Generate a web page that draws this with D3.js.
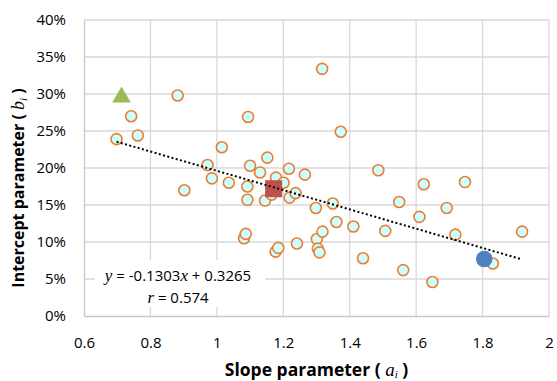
<!DOCTYPE html>
<html>
<head>
<meta charset="utf-8">
<script src="https://cdn.jsdelivr.net/npm/d3@7"></script>
<style>
  body { margin: 0; background: #fff; }
  text { font-family: "Open Sans", "Liberation Sans", sans-serif; fill: #000; }
</style>
</head>
<body>
<svg id="chart" width="557" height="381"></svg>
<script>
// slope (a_i) and intercept (b_i, %) for each individual
const slopeValues = [0.698, 0.742, 0.762, 0.882, 0.902, 0.972, 0.985, 1.015, 1.036, 1.082,
  1.087, 1.092, 1.092, 1.094, 1.100, 1.130, 1.145, 1.152, 1.165, 1.177,
  1.185, 1.178, 1.201, 1.217, 1.219, 1.237, 1.241, 1.265, 1.298, 1.301,
  1.304, 1.309, 1.318, 1.317, 1.349, 1.360, 1.373, 1.411, 1.440, 1.486,
  1.507, 1.549, 1.561, 1.610, 1.623, 1.649, 1.692, 1.718, 1.747, 1.831, 1.919];
const interceptValues = [23.9, 27.0, 24.4, 29.8, 17.0, 20.4, 18.6, 22.8, 18.0, 10.5,
  11.1, 17.5, 15.7, 26.9, 20.3, 19.4, 15.6, 21.4, 16.4, 8.7,
  9.2, 18.7, 18.0, 19.9, 16.0, 16.6, 9.8, 19.1, 14.6, 10.4,
  9.1, 8.6, 11.4, 33.4, 15.2, 12.7, 24.9, 12.1, 7.8, 19.7,
  11.5, 15.4, 6.2, 13.4, 17.8, 4.6, 14.6, 11.0, 18.1, 7.1, 11.4];

// highlighted points
const trianglePoint = [0.713, 29.7];
const squarePoint = [1.171, 17.2];
const bluePoint = [1.805, 7.7];

// linear fit shown on chart
const fitSlope = -0.1303;
const fitIntercept = 0.3265;
const fitLabel = 'r = 0.574';

const xTicks = [0.6, 0.8, 1, 1.2, 1.4, 1.6, 1.8, 2];
const yTicks = [0, 5, 10, 15, 20, 25, 30, 35, 40];

const width = 557, height = 381;
const margin = {top: 20, right: 8, bottom: 65, left: 84};
const innerW = width - margin.left - margin.right;
const innerH = height - margin.top - margin.bottom;

const svg = d3.select('#chart');
const g = svg.append('g').attr('transform', `translate(${margin.left},${margin.top})`);

const x = d3.scaleLinear().domain([0.6, 2]).range([0, innerW]);
const y = d3.scaleLinear().domain([0, 40]).range([innerH, 0]);

// gridlines
g.append('g').selectAll('line').data(xTicks.slice(1)).join('line')
  .attr('x1', d => x(d)).attr('x2', d => x(d))
  .attr('y1', 0).attr('y2', innerH)
  .attr('stroke', '#d9d9d9').attr('stroke-width', 1.3);
g.append('g').selectAll('line').data(yTicks.slice(1)).join('line')
  .attr('x1', 0).attr('x2', innerW)
  .attr('y1', d => y(d)).attr('y2', d => y(d))
  .attr('stroke', '#d9d9d9').attr('stroke-width', 1.3);

// axes
const xAxis = g.append('g').attr('transform', `translate(0,${innerH})`)
  .call(d3.axisBottom(x).tickValues(xTicks).tickSize(0).tickPadding(21).tickFormat(d3.format('')));
const yAxis = g.append('g')
  .call(d3.axisLeft(y).tickValues(yTicks).tickSize(0).tickPadding(18).tickFormat(d => d + '%'));
[xAxis, yAxis].forEach(a => {
  a.select('.domain').attr('stroke', '#c8c8c8').attr('stroke-width', 1.3);
  a.selectAll('text').attr('font-size', 15).attr('font-family', '"Open Sans", sans-serif').attr('fill', '#000');
});

// label box (drawn before points so it only hides gridlines)
const labelX = 178;
g.append('rect')
  .attr('x', 95 - margin.left).attr('y', 260 - margin.top)
  .attr('width', 170).attr('height', 47)
  .attr('fill', '#fff');

// data points
const points = slopeValues.map((a, i) => ({a, b: interceptValues[i]}));
g.append('g').selectAll('circle').data(points).join('circle')
  .attr('cx', d => x(d.a)).attr('cy', d => y(d.b))
  .attr('r', 5.5)
  .attr('fill', '#ccffff')
  .attr('stroke', '#ed7d31').attr('stroke-width', 1.6);

g.append('rect')
  .attr('x', x(squarePoint[0]) - 8.5).attr('y', y(squarePoint[1]) - 8.5)
  .attr('width', 17).attr('height', 17)
  .attr('fill', '#c0504d');

g.append('circle')
  .attr('cx', x(bluePoint[0])).attr('cy', y(bluePoint[1]))
  .attr('r', 8.3).attr('fill', '#4f81bd');

const tri = d3.symbol().type(d3.symbolTriangle).size(150);
g.append('path')
  .attr('d', tri())
  .attr('transform', `translate(${x(trianglePoint[0])},${y(trianglePoint[1]) + 1})`)
  .attr('fill', '#9bbb59');

// trendline
const xMin = d3.min(slopeValues), xMax = d3.max(slopeValues);
g.append('line')
  .attr('x1', x(xMin)).attr('y1', y((fitSlope * xMin + fitIntercept) * 100))
  .attr('x2', x(xMax)).attr('y2', y((fitSlope * xMax + fitIntercept) * 100))
  .attr('stroke', '#000').attr('stroke-width', 2)
  .attr('stroke-dasharray', '2,2.4');

// equation label
const eq = g.append('text')
  .attr('x', labelX - margin.left).attr('y', 281 - margin.top)
  .attr('text-anchor', 'middle')
  .attr('font-family', '"Liberation Sans", Arial, sans-serif')
  .attr('font-size', 15);
eq.append('tspan').attr('font-family', '"Liberation Serif", serif').attr('font-style', 'italic').attr('font-size', 17).text('y');
eq.append('tspan').text(` = ${fitSlope}`);
eq.append('tspan').attr('font-family', '"Liberation Serif", serif').attr('font-style', 'italic').attr('font-size', 17).text('x');
eq.append('tspan').text(` + ${fitIntercept}`);

const rl = g.append('text')
  .attr('x', labelX - margin.left).attr('y', 303 - margin.top)
  .attr('text-anchor', 'middle')
  .attr('font-family', '"Liberation Sans", Arial, sans-serif')
  .attr('font-size', 15);
rl.append('tspan').attr('font-family', '"Liberation Serif", serif').attr('font-style', 'italic').attr('font-size', 17).text('r');
rl.append('tspan').text(fitLabel.slice(1));

// axis titles
const xt = svg.append('text')
  .attr('x', margin.left + innerW / 2).attr('y', 376)
  .attr('text-anchor', 'middle')
  .attr('font-family', '"Liberation Sans", Arial, sans-serif')
  .attr('font-weight', 'bold').attr('font-size', 17.5);
xt.append('tspan').text('Slope parameter ( ');
xt.append('tspan').attr('font-family', '"Liberation Serif", serif').attr('font-style', 'italic').attr('font-weight', 'normal').attr('font-size', 19).text('a');
xt.append('tspan').attr('font-family', '"Liberation Serif", serif').attr('font-style', 'italic').attr('font-weight', 'normal').attr('font-size', 11).attr('dy', 2).text('i');
xt.append('tspan').attr('dy', -2).text(' )');

const yt = svg.append('text')
  .attr('transform', `translate(24,${margin.top + innerH / 2 + 20}) rotate(-90)`)
  .attr('text-anchor', 'middle')
  .attr('font-family', '"Liberation Sans", Arial, sans-serif')
  .attr('font-weight', 'bold').attr('font-size', 16);
yt.append('tspan').text('Intercept parameter ( ');
yt.append('tspan').attr('font-family', '"Liberation Serif", serif').attr('font-style', 'italic').attr('font-weight', 'normal').attr('font-size', 18).text('b');
yt.append('tspan').attr('font-family', '"Liberation Serif", serif').attr('font-style', 'italic').attr('font-weight', 'normal').attr('font-size', 11).attr('dy', 3).text('i');
yt.append('tspan').attr('dy', -3).text(' )');
</script>
</body>
</html>
